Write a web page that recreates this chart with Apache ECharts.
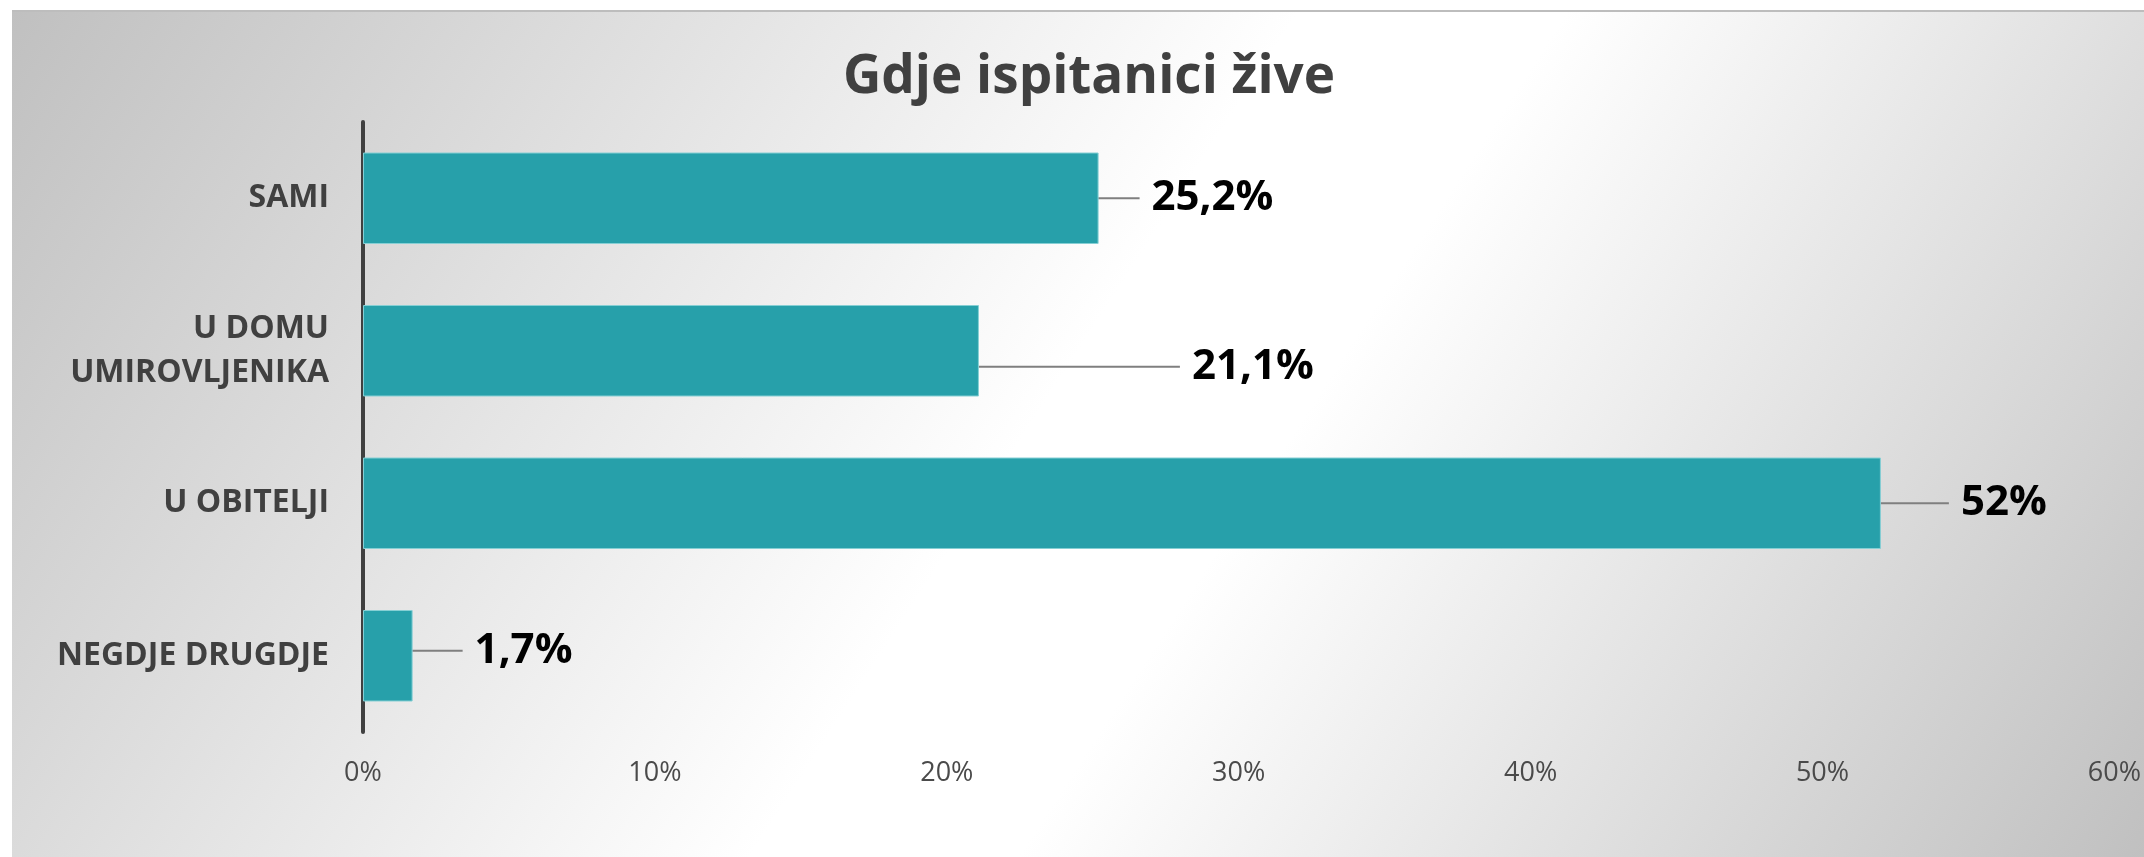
<!DOCTYPE html>
<html>
<head>
<meta charset="utf-8">
<script src="https://cdn.jsdelivr.net/npm/echarts@6/dist/echarts.min.js"></script>
<style>
  html, body { margin: 0; padding: 0; background: #ffffff; }
  #bg {
    position: absolute; left: 12px; top: 10px; width: 2132px; height: 847px;
    border-top: 2px solid #bdbdbd; box-sizing: border-box;
    background: linear-gradient(123deg, #c0c0c0 0%, #ffffff 48%, #ffffff 58%, #c0c0c0 100%);
  }
  #chart { position: absolute; left: 0; top: 0; width: 2144px; height: 857px; }
</style>
</head>
<body>
<div id="bg"></div>
<div id="chart"></div>
<script>
const titleText = 'Gdje ispitanici žive';
const categories = ['SAMI', 'U DOMU\nUMIROVLJENIKA', 'U OBITELJI', 'NEGDJE DRUGDJE'];
const values = [25.2, 21.1, 52, 1.7];
const xTicks = { min: 0, max: 60, interval: 10 };

// label displacement (style only)
const labelDx = [36, 196, 63, 45];
const labelDy = [0, 16, 0, -5];

const chart = echarts.init(document.getElementById('chart'), null, { renderer: 'canvas' });
chart.setOption({
  backgroundColor: 'transparent',
  animation: false,
  title: {
    text: titleText,
    left: 1084,
    top: 46,
    textAlign: 'center',
    textStyle: { fontFamily: 'Open Sans', fontWeight: 'bold', fontSize: 53, color: '#404040' }
  },
  grid: { left: 363, top: 122, width: 1752, height: 610, containLabel: false },
  xAxis: {
    type: 'value',
    min: xTicks.min, max: xTicks.max, interval: xTicks.interval,
    axisLine: { show: false },
    axisTick: { show: false },
    splitLine: { show: false },
    axisLabel: {
      formatter: '{value}%', margin: 28,
      fontFamily: 'Open Sans', fontSize: 27, color: '#4a4a4a'
    }
  },
  yAxis: {
    type: 'category',
    data: categories,
    inverse: true,
    axisLine: { show: true, lineStyle: { color: '#404040', width: 4 } },
    axisTick: { show: false },
    splitLine: { show: false },
    axisLabel: {
      margin: 34, fontFamily: 'Open Sans', fontWeight: 'bold', fontSize: 32,
      color: '#404040', lineHeight: 44, align: 'right'
    }
  },
  series: [{
    type: 'bar',
    data: values,
    barCategoryGap: '40%',
    itemStyle: { color: '#27a0aa', borderColor: '#86cfd4', borderWidth: 1 },
    label: {
      show: true, position: 'right', distance: 5, padding: [0, 0, 0, 12],
      backgroundColor: 'rgba(255,255,255,0)',
      fontFamily: 'Open Sans', fontWeight: 'bold', fontSize: 42, color: '#000000',
      formatter: p => String(p.value).replace('.', ',') + '%'
    },
    labelLine: { show: true, lineStyle: { color: '#7f7f7f', width: 2 } },
    labelLayout: p => ({ dx: labelDx[p.dataIndex], dy: labelDy[p.dataIndex] })
  }]
});
</script>
</body>
</html>
